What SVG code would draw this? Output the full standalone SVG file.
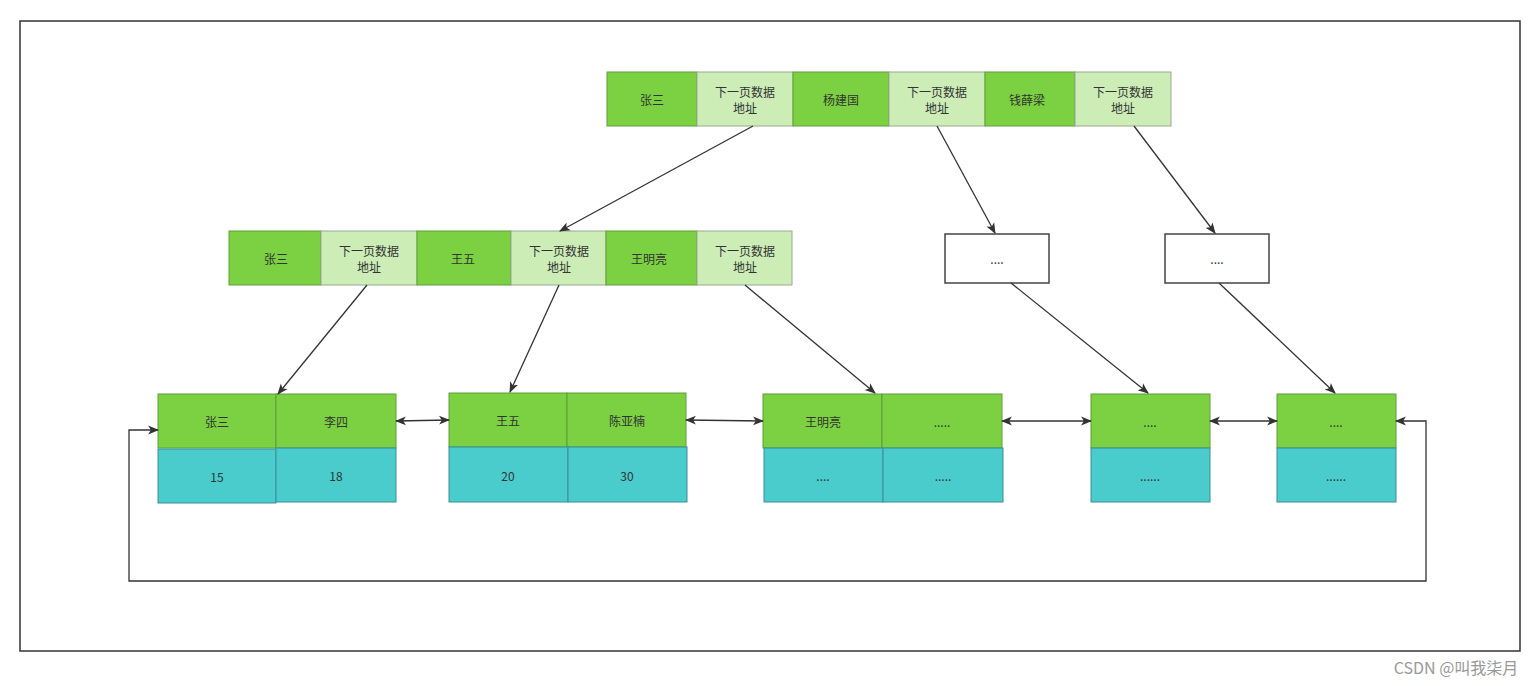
<svg xmlns="http://www.w3.org/2000/svg" width="1536" height="686" viewBox="0 0 1536 686">
<defs>
<style>
.g{fill:#7cd142;stroke:#5f9e3a;stroke-width:1}
.lg{fill:#cdedb7;stroke:#9aaa92;stroke-width:1}
.t{fill:#4acbcc;stroke:#3b8f95;stroke-width:1}
.w{fill:#ffffff;stroke:#444;stroke-width:1.5}
text{font-family:"Noto Sans CJK SC","Liberation Sans",sans-serif;font-size:12px;fill:#333;text-anchor:middle;dominant-baseline:central}
.c{fill:none;stroke:#333;stroke-width:1.3}
</style>
<marker id="ah" viewBox="0 0 10 10" refX="9" refY="5" markerWidth="11" markerHeight="11" markerUnits="userSpaceOnUse" orient="auto-start-reverse">
<path d="M0,1 L10,5 L0,9 L2.5,5 Z" fill="#333"/>
</marker>
</defs>
<rect x="0" y="0" width="1536" height="686" fill="#fff"/>
<rect x="20" y="21" width="1500" height="630" fill="none" stroke="#333" stroke-width="1.5"/>

<g id="root">
<rect class="g" x="607" y="72" width="90" height="54"/><text x="652" y="99">张三</text>
<rect class="lg" x="697" y="72" width="96" height="54"/><text x="745" y="91">下一页数据</text><text x="745" y="107">地址</text>
<rect class="g" x="793" y="72" width="96" height="54"/><text x="841" y="99">杨建国</text>
<rect class="lg" x="889" y="72" width="96" height="54"/><text x="937" y="91">下一页数据</text><text x="937" y="107">地址</text>
<rect class="g" x="985" y="72" width="90" height="54"/><text x="1027" y="99">钱薛梁</text>
<rect class="lg" x="1075" y="72" width="96" height="54"/><text x="1123" y="91">下一页数据</text><text x="1123" y="107">地址</text>
</g>

<g id="mid">
<rect class="g" x="229" y="231" width="92" height="54"/><text x="276" y="258">张三</text>
<rect class="lg" x="321" y="231" width="96" height="54"/><text x="369" y="250">下一页数据</text><text x="369" y="266">地址</text>
<rect class="g" x="417" y="231" width="94" height="54"/><text x="463" y="258">王五</text>
<rect class="lg" x="511" y="231" width="95" height="54"/><text x="559" y="250">下一页数据</text><text x="559" y="266">地址</text>
<rect class="g" x="606" y="231" width="91" height="54"/><text x="649" y="258">王明亮</text>
<rect class="lg" x="697" y="231" width="95" height="54"/><text x="745" y="250">下一页数据</text><text x="745" y="266">地址</text>
</g>

<g id="box1"><rect class="w" x="945" y="234" width="104" height="49"/><text x="997" y="258">....</text></g>
<g id="box2"><rect class="w" x="1165" y="234" width="104" height="49"/><text x="1217" y="258">....</text></g>

<g id="leaf1">
<rect class="g" x="158" y="394" width="118" height="54"/><text x="217" y="421">张三</text>
<rect class="g" x="276" y="394" width="120" height="54"/><text x="336" y="421">李四</text>
<rect class="t" x="158" y="449" width="118" height="54"/><text x="217" y="476">15</text>
<rect class="t" x="276" y="448" width="120" height="54"/><text x="336" y="475">18</text>
</g>
<g id="leaf2">
<rect class="g" x="449" y="393" width="118" height="54"/><text x="508" y="420">王五</text>
<rect class="g" x="567" y="393" width="119" height="54"/><text x="627" y="420">陈亚楠</text>
<rect class="t" x="449" y="447" width="119" height="55"/><text x="508" y="475">20</text>
<rect class="t" x="568" y="447" width="119" height="55"/><text x="627" y="475">30</text>
</g>
<g id="leaf3">
<rect class="g" x="763" y="394" width="119" height="54"/><text x="823" y="421">王明亮</text>
<rect class="g" x="882" y="394" width="120" height="54"/><text x="942" y="421">.....</text>
<rect class="t" x="764" y="448" width="119" height="54"/><text x="823" y="475">....</text>
<rect class="t" x="883" y="448" width="120" height="54"/><text x="943" y="475">.....</text>
</g>
<g id="leaf4">
<rect class="g" x="1091" y="394" width="119" height="54"/><text x="1150" y="421">....</text>
<rect class="t" x="1091" y="448" width="119" height="54"/><text x="1150" y="475">......</text>
</g>
<g id="leaf5">
<rect class="g" x="1277" y="394" width="119" height="54"/><text x="1336" y="421">....</text>
<rect class="t" x="1277" y="448" width="119" height="54"/><text x="1336" y="475">......</text>
</g>

<g id="connectors">
<line class="c" x1="753" y1="126" x2="560" y2="231" marker-end="url(#ah)"/>
<line class="c" x1="937" y1="126" x2="995" y2="233" marker-end="url(#ah)"/>
<line class="c" x1="1134" y1="126" x2="1215" y2="233" marker-end="url(#ah)"/>
<line class="c" x1="367" y1="285" x2="278" y2="394" marker-end="url(#ah)"/>
<line class="c" x1="559" y1="285" x2="510" y2="392" marker-end="url(#ah)"/>
<line class="c" x1="745" y1="285" x2="875" y2="393" marker-end="url(#ah)"/>
<line class="c" x1="1011" y1="283" x2="1148" y2="393" marker-end="url(#ah)"/>
<line class="c" x1="1219" y1="283" x2="1335" y2="393" marker-end="url(#ah)"/>
<line class="c" x1="396" y1="421" x2="449" y2="420" marker-start="url(#ah)" marker-end="url(#ah)"/>
<line class="c" x1="686" y1="420" x2="763" y2="421" marker-start="url(#ah)" marker-end="url(#ah)"/>
<line class="c" x1="1002" y1="421" x2="1091" y2="421" marker-start="url(#ah)" marker-end="url(#ah)"/>
<line class="c" x1="1210" y1="421" x2="1277" y2="421" marker-start="url(#ah)" marker-end="url(#ah)"/>
<path class="c" d="M158,430 L129,430 L129,581 L1426,581 L1426,421 L1396,421" marker-start="url(#ah)" marker-end="url(#ah)"/>
</g>

<text x="1456" y="667" style="font-size:16px;fill:#999">CSDN @叫我柒月</text>
</svg>
